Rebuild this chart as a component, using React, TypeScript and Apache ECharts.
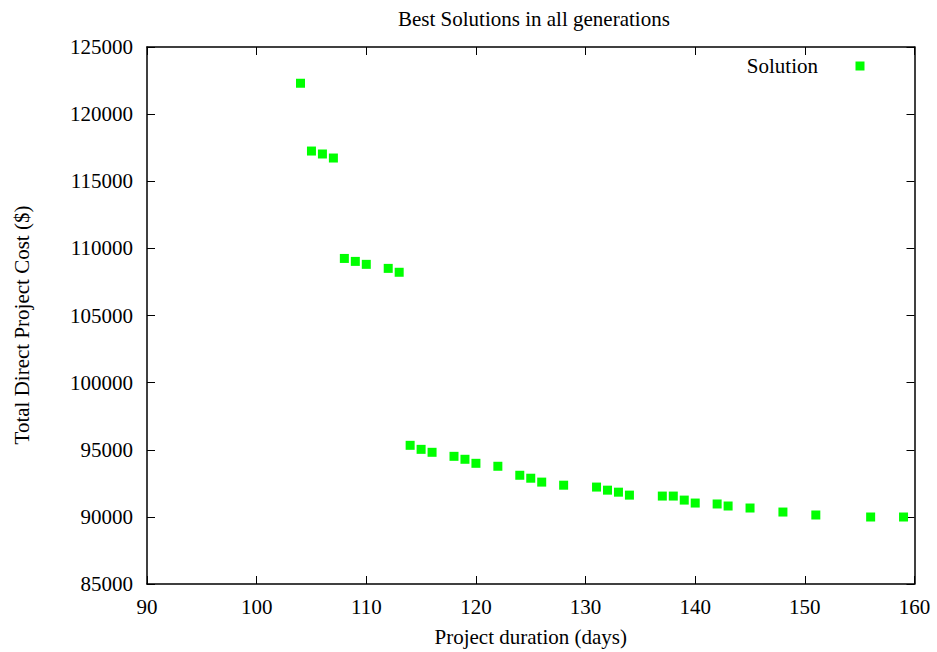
import React, { useEffect, useRef } from "react";
import * as echarts from "echarts";

const durations = [104, 105, 106, 107, 108, 109, 110, 112, 113, 114, 115, 116, 118, 119, 120, 122, 124, 125, 126, 128, 131, 132, 133, 134, 137, 138, 139, 140, 142, 143, 145, 148, 151, 156, 159];
const costs = [122300, 117250, 117030, 116730, 109250, 109030, 108810, 108510, 108220, 95330, 95030, 94810, 94510, 94290, 93990, 93770, 93100, 92880, 92590, 92360, 92220, 91990, 91840, 91620, 91550, 91550, 91250, 91030, 90960, 90810, 90660, 90360, 90140, 89990, 89990];

const FONT = "'Liberation Serif', 'DejaVu Serif', serif";

export default function App() {
  const ref = useRef<HTMLDivElement>(null);
  useEffect(() => {
    document.body.style.margin = "0";
    const chart = echarts.init(ref.current!, null, { renderer: "svg" });
    const axisLine = { show: true, onZero: false, lineStyle: { color: "#000", width: 1.5 } };
    const tick = { show: true, inside: true, length: 8, lineStyle: { color: "#000", width: 1 } };
    const xBase = { type: "value", min: 90, max: 160, interval: 10, splitLine: { show: false }, axisLine, axisTick: tick };
    const yBase = { type: "value", min: 85000, max: 125000, interval: 5000, splitLine: { show: false }, axisLine, axisTick: tick };
    chart.setOption({
      animation: false,
      backgroundColor: "#fff",
      textStyle: { fontFamily: FONT },
      title: {
        text: "Best Solutions in all generations",
        left: 393,
        top: 3,
        textStyle: { fontFamily: FONT, fontSize: 21, fontWeight: "normal", color: "#000" },
      },
      grid: { left: 147, right: 22.5, top: 47, bottom: 66.5 },
      xAxis: [
        {
          ...xBase,
          position: "bottom",
          name: "Project duration (days)",
          nameLocation: "middle",
          nameGap: 42,
          nameTextStyle: { fontFamily: FONT, fontSize: 21, color: "#000" },
          axisLabel: { fontFamily: FONT, fontSize: 21, color: "#000", margin: 12, formatter: (v: number) => String(v) },
        },
        { ...xBase, position: "top", axisLabel: { show: false } },
      ],
      yAxis: [
        {
          ...yBase,
          position: "left",
          axisLabel: { fontFamily: FONT, fontSize: 21, color: "#000", margin: 14, formatter: (v: number) => String(v) },
        },
        { ...yBase, position: "right", axisLabel: { show: false } },
      ],
      series: [
        {
          name: "Solution",
          type: "scatter",
          symbol: "rect",
          symbolSize: 9,
          itemStyle: { color: "#00ff00", opacity: 1 },
          data: durations.map((d, i) => [d, costs[i]]),
        },
      ],
      graphic: [
        {
          type: "text",
          x: 22,
          y: 325,
          rotation: Math.PI / 2,
          style: {
            text: "Total Direct Project Cost ($)",
            font: `21px ${FONT}`,
            fill: "#000",
            align: "center",
            verticalAlign: "middle",
          },
        },
        {
          type: "text",
          right: 937 - 818,
          top: 55,
          style: { text: "Solution", font: `21px ${FONT}`, fill: "#000" },
        },
        {
          type: "rect",
          left: 855.5,
          top: 61.5,
          shape: { width: 9, height: 9 },
          style: { fill: "#00ff00" },
        },
      ],
    });
    return () => chart.dispose();
  }, []);
  return <div ref={ref} style={{ width: 937, height: 652 }} />;
}
